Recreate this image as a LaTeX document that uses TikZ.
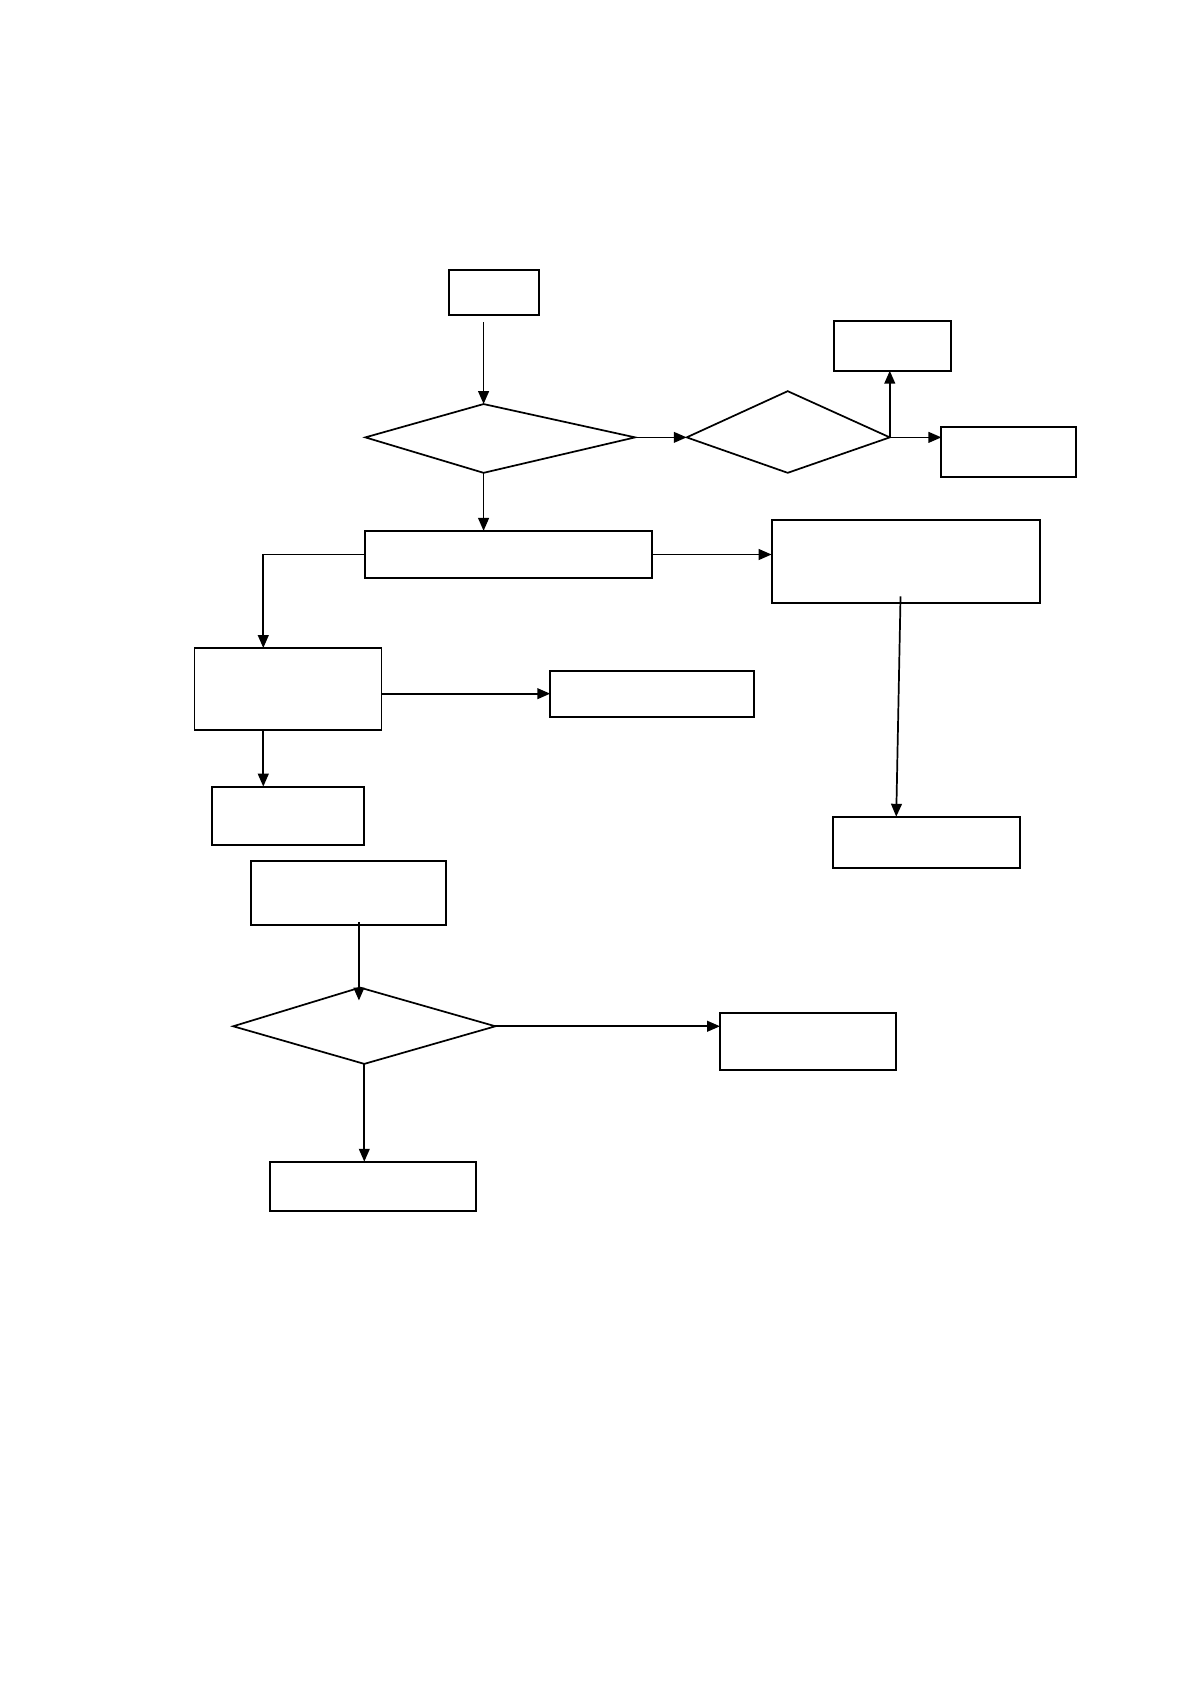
\documentclass[tikz,border=0pt]{standalone}
\usetikzlibrary{arrows.meta,fit,calc}
\begin{document}
\begin{tikzpicture}[x=0.5pt,y=-0.5pt,
  box/.style={draw, line width=0.9pt, inner sep=0pt, outer sep=0pt},
  ln/.style={line width=0.8pt},
  arr/.style={-{Triangle[length=6pt,width=5pt]}, line width=0.8pt}]
\path[use as bounding box] (0,0) rectangle (1108,1568);

% boxes
\node[box, fit={(418,251)(502,293)}] (start) {};
\node[box, fit={(776,299)(885,345)}] (tr1) {};
\node[box, fit={(876,397)(1001,444)}] (tr2) {};
\node[box, fit={(340,494)(607,538)}] (mid) {};
\node[box, fit={(718,484)(968,561)}] (big) {};
\node[box, fit={(181,603)(355,679)}] (lb) {};
\node[box, fit={(512,624)(702,667)}] (lbr) {};
\node[box, fit={(197,732)(339,786)}] (lb2) {};
\node[box, fit={(775,760)(949,808)}] (br) {};
\node[box, fit={(234,801)(415,861)}] (b3) {};
\node[box, fit={(670,943)(834,996)}] (b3r) {};
\node[box, fit={(251,1081)(443,1127)}] (b3b) {};

% diamonds
\coordinate (d1l) at (340,407);
\coordinate (d1t) at (450,376);
\coordinate (d1r) at (591,407);
\coordinate (d1b) at (450,440);
\draw[ln] (d1l) -- (d1t) -- (d1r) -- (d1b) -- cycle;

\coordinate (d2l) at (639,407);
\coordinate (d2t) at (733,364);
\coordinate (d2r) at (828,407);
\coordinate (d2b) at (733,440);
\draw[ln] (d2l) -- (d2t) -- (d2r) -- (d2b) -- cycle;

\coordinate (d3l) at (217,955);
\coordinate (d3t) at (335,919);
\coordinate (d3r) at (461,955);
\coordinate (d3b) at (339,990);
\draw[ln] (d3l) -- (d3t) -- (d3r) -- (d3b) -- cycle;

% helper coordinates
\coordinate (s1) at (450,300);
\coordinate (lbtop) at (245,603);
\coordinate (bigin) at (838,555);
\coordinate (brtop) at (834,760);
\coordinate (b3out) at (334,858);
\coordinate (d3in) at (334,931);

% connectors
\draw[arr] (s1) -- (d1t);
\draw[arr] (d1r) -- (d2l);
\draw[arr] (d2r) -- (d2r |- tr1.south);
\draw[arr] (d2r) -- (d2r -| tr2.west);
\draw[arr] (d1b) -- (d1b |- mid.north);
\draw[arr] (mid.west) -| (lbtop);
\draw[arr] (mid.east) -- (mid.east -| big.west);
\draw[arr] (bigin) -- (brtop);
\draw[arr] (lbr.west -| lb.east) -- (lbr.west);
\draw[arr] (lbtop |- lb.south) -- (lbtop |- lb2.north);
\draw[arr] (b3out) -- (d3in);
\draw[arr] (d3r) -- (d3r -| b3r.west);
\draw[arr] (d3b) -- (d3b |- b3b.north);
\end{tikzpicture}
\end{document}
